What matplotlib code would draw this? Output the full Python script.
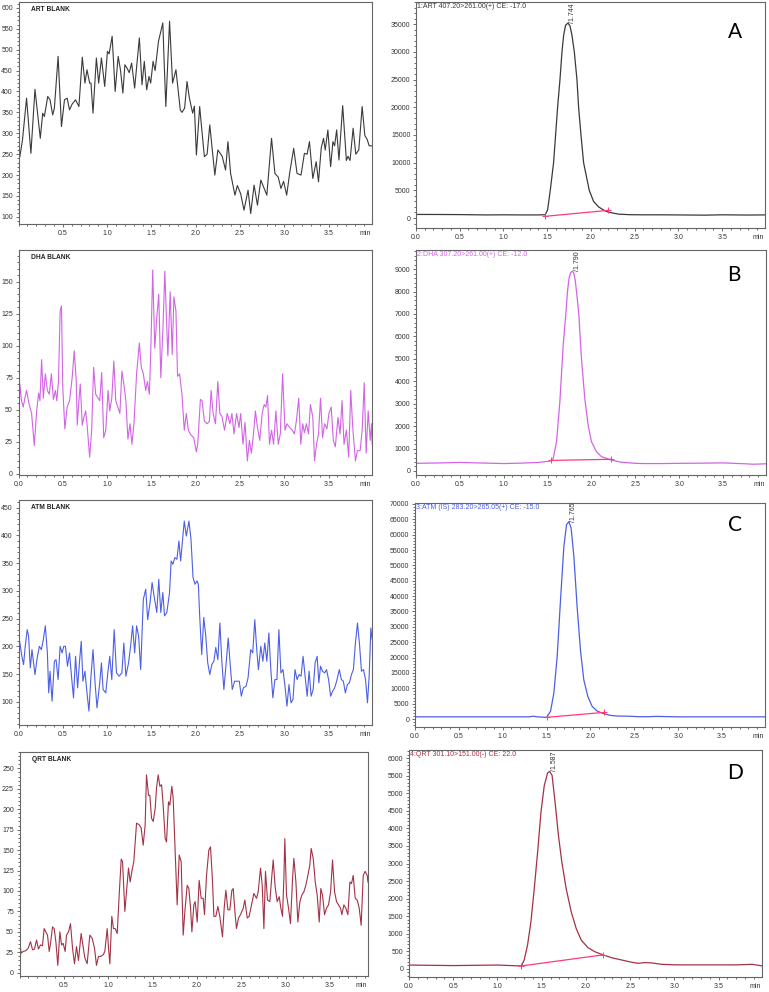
import numpy as np
import matplotlib.pyplot as plt
from matplotlib.ticker import MultipleLocator

plt.rcParams['font.family'] = ['Liberation Sans', 'DejaVu Sans']

# ---- blank traces (left column) ----
art_t = [0.000, 0.015, 0.045, 0.091, 0.140, 0.186, 0.246, 0.273, 0.292, 0.330, 0.356, 0.386, 0.405, 0.447,
         0.485, 0.519, 0.549, 0.576, 0.606, 0.644, 0.682, 0.720, 0.750, 0.773, 0.803, 0.818, 0.841, 0.879,
         0.905, 0.936, 0.973, 1.004, 1.023, 1.057, 1.091, 1.125, 1.152, 1.178, 1.201, 1.227, 1.250, 1.277,
         1.311, 1.364, 1.394, 1.420, 1.447, 1.473, 1.492, 1.519, 1.542, 1.580, 1.629, 1.644, 1.663, 1.705,
         1.739, 1.777, 1.826, 1.845, 1.875, 1.902, 1.928, 1.966, 1.985, 2.008, 2.045, 2.064, 2.098, 2.129,
         2.159, 2.216, 2.250, 2.299, 2.337, 2.364, 2.394, 2.443, 2.470, 2.508, 2.545, 2.591, 2.621, 2.659,
         2.697, 2.735, 2.803, 2.856, 2.894, 2.932, 2.962, 2.992, 3.027, 3.061, 3.106, 3.144, 3.189, 3.227,
         3.258, 3.284, 3.322, 3.360, 3.386, 3.417, 3.443, 3.462, 3.492, 3.523, 3.549, 3.568, 3.591, 3.617,
         3.659, 3.701, 3.720, 3.742, 3.777, 3.807, 3.841, 3.879, 3.909, 3.936, 3.958, 3.992]
art_y = [236, 244, 284, 384, 252, 405, 288, 348, 340, 388, 380, 344, 360, 484,
         316, 380, 384, 356, 370, 380, 364, 482, 420, 452, 420, 420, 348, 480,
         420, 480, 412, 496, 490, 532, 400, 484, 450, 396, 464, 455, 445, 468,
         408, 528, 416, 472, 404, 436, 420, 472, 450, 520, 564, 470, 364, 568,
         420, 452, 356, 350, 360, 424, 385, 348, 365, 248, 364, 320, 244, 250,
         320, 200, 260, 245, 212, 280, 204, 152, 175, 155, 116, 164, 108, 176,
         128, 188, 152, 288, 204, 195, 168, 185, 152, 205, 264, 204, 200, 252,
         250, 280, 192, 232, 184, 265, 288, 260, 308, 220, 280, 270, 308, 236,
         366, 235, 245, 235, 312, 250, 260, 364, 295, 285, 270, 270]

dha_t = [0.000, 0.015, 0.034, 0.053, 0.072, 0.091, 0.121, 0.148, 0.178, 0.205, 0.227, 0.242, 0.261, 0.280,
         0.303, 0.326, 0.348, 0.371, 0.394, 0.417, 0.432, 0.451, 0.470, 0.485, 0.500, 0.523, 0.549, 0.576,
         0.606, 0.629, 0.652, 0.663, 0.682, 0.697, 0.720, 0.735, 0.758, 0.773, 0.803, 0.826, 0.848, 0.871,
         0.898, 0.917, 0.939, 0.962, 0.985, 1.011, 1.030, 1.053, 1.076, 1.098, 1.121, 1.144, 1.167, 1.189,
         1.212, 1.235, 1.258, 1.280, 1.303, 1.333, 1.364, 1.386, 1.409, 1.436, 1.455, 1.477, 1.492, 1.515,
         1.538, 1.561, 1.583, 1.606, 1.629, 1.652, 1.667, 1.686, 1.712, 1.735, 1.754, 1.777, 1.795, 1.818,
         1.845, 1.871, 1.894, 1.917, 1.939, 1.977, 2.008, 2.023, 2.053, 2.072, 2.098, 2.129, 2.155, 2.174,
         2.197, 2.223, 2.250, 2.273, 2.295, 2.326, 2.356, 2.386, 2.409, 2.432, 2.462, 2.489, 2.508, 2.534,
         2.557, 2.583, 2.606, 2.629, 2.652, 2.674, 2.697, 2.723, 2.750, 2.773, 2.792, 2.811, 2.833, 2.856,
         2.879, 2.905, 2.932, 2.955, 2.981, 3.008, 3.030, 3.061, 3.091, 3.114, 3.136, 3.163, 3.186, 3.208,
         3.227, 3.250, 3.273, 3.295, 3.322, 3.341, 3.364, 3.386, 3.409, 3.432, 3.455, 3.481, 3.504, 3.530,
         3.553, 3.576, 3.606, 3.629, 3.652, 3.674, 3.701, 3.727, 3.750, 3.773, 3.803, 3.826, 3.856, 3.879,
         3.902, 3.924, 3.947, 3.970, 3.985, 3.992]
dha_y = [32, 70, 57, 52, 59, 65, 54, 47, 22, 49, 63, 57, 89, 59,
         78, 65, 62, 78, 58, 65, 57, 72, 127, 131, 67, 35, 52, 57,
         75, 96, 72, 38, 57, 70, 38, 43, 49, 39, 13, 34, 83, 62,
         59, 57, 79, 28, 34, 65, 49, 59, 88, 57, 52, 47, 80, 70,
         57, 27, 39, 23, 39, 78, 102, 83, 78, 65, 72, 62, 93, 159,
         98, 122, 140, 75, 111, 158, 127, 92, 142, 93, 138, 127, 76, 78,
         62, 34, 47, 34, 31, 28, 17, 23, 58, 57, 41, 39, 41, 65,
         47, 39, 72, 47, 45, 34, 47, 39, 47, 31, 47, 36, 47, 23,
         40, 10, 26, 16, 31, 49, 36, 26, 47, 54, 52, 61, 23, 34,
         23, 49, 23, 31, 78, 34, 39, 36, 34, 31, 41, 59, 23, 39,
         32, 39, 31, 54, 44, 10, 23, 31, 59, 28, 39, 35, 47, 52,
         26, 21, 44, 31, 57, 23, 34, 13, 65, 36, 10, 18, 18, 34,
         71, 16, 49, 26, 39, 23]

atm_t = [0.000, 0.015, 0.038, 0.057, 0.076, 0.098, 0.114, 0.133, 0.152, 0.170, 0.186, 0.208, 0.235, 0.258,
         0.280, 0.303, 0.326, 0.341, 0.356, 0.379, 0.405, 0.424, 0.447, 0.470, 0.492, 0.511, 0.530, 0.553,
         0.576, 0.598, 0.621, 0.644, 0.667, 0.689, 0.708, 0.727, 0.750, 0.773, 0.795, 0.818, 0.841, 0.864,
         0.886, 0.917, 0.936, 0.955, 0.985, 1.008, 1.030, 1.053, 1.080, 1.106, 1.136, 1.167, 1.189, 1.212,
         1.242, 1.265, 1.288, 1.311, 1.333, 1.356, 1.379, 1.394, 1.409, 1.436, 1.458, 1.485, 1.508, 1.530,
         1.561, 1.583, 1.606, 1.629, 1.648, 1.674, 1.705, 1.723, 1.742, 1.765, 1.788, 1.811, 1.830, 1.856,
         1.871, 1.894, 1.924, 1.947, 1.970, 1.992, 2.015, 2.030, 2.045, 2.068, 2.091, 2.114, 2.136, 2.159,
         2.182, 2.205, 2.227, 2.250, 2.273, 2.295, 2.318, 2.341, 2.367, 2.394, 2.413, 2.439, 2.470, 2.492,
         2.515, 2.538, 2.568, 2.591, 2.621, 2.644, 2.667, 2.689, 2.708, 2.735, 2.758, 2.780, 2.803, 2.826,
         2.848, 2.871, 2.894, 2.917, 2.939, 2.962, 2.985, 3.008, 3.030, 3.053, 3.076, 3.098, 3.121, 3.144,
         3.167, 3.189, 3.212, 3.235, 3.258, 3.280, 3.303, 3.326, 3.348, 3.371, 3.390, 3.409, 3.432, 3.455,
         3.477, 3.500, 3.523, 3.545, 3.568, 3.591, 3.621, 3.644, 3.667, 3.689, 3.712, 3.735, 3.758, 3.780,
         3.803, 3.826, 3.848, 3.871, 3.894, 3.917, 3.939, 3.958, 3.977, 3.992]
atm_y = [222, 206, 182, 167, 200, 230, 218, 161, 194, 170, 149, 176, 200, 194,
         212, 237, 188, 116, 155, 101, 173, 176, 140, 200, 188, 200, 200, 164,
         188, 146, 107, 182, 125, 173, 209, 137, 155, 116, 83, 146, 194, 134,
         89, 134, 170, 122, 116, 152, 182, 140, 230, 152, 146, 152, 206, 146,
         170, 200, 237, 188, 237, 218, 158, 224, 285, 303, 248, 279, 315, 291,
         261, 321, 261, 297, 255, 261, 297, 354, 348, 360, 357, 390, 354, 399,
         426, 399, 426, 393, 324, 312, 318, 312, 255, 185, 252, 218, 170, 149,
         167, 173, 198, 176, 242, 173, 122, 164, 215, 158, 122, 137, 137, 137,
         110, 125, 128, 143, 194, 188, 248, 194, 158, 200, 173, 206, 173, 224,
         158, 107, 140, 140, 230, 152, 158, 128, 92, 131, 98, 104, 158, 140,
         149, 146, 182, 146, 110, 155, 110, 122, 170, 182, 134, 164, 155, 152,
         158, 140, 110, 119, 125, 137, 158, 140, 137, 116, 131, 134, 149, 158,
         206, 242, 206, 155, 158, 140, 98, 146, 233, 212]

qrt_t = [0.004, 0.019, 0.041, 0.071, 0.098, 0.124, 0.147, 0.169, 0.192, 0.214, 0.237, 0.259, 0.278, 0.297,
         0.316, 0.335, 0.350, 0.372, 0.391, 0.410, 0.432, 0.455, 0.474, 0.492, 0.515, 0.530, 0.553, 0.575,
         0.598, 0.620, 0.643, 0.665, 0.695, 0.718, 0.737, 0.763, 0.793, 0.820, 0.846, 0.868, 0.891, 0.917,
         0.944, 0.962, 0.989, 1.004, 1.019, 1.041, 1.060, 1.079, 1.102, 1.124, 1.147, 1.162, 1.188, 1.207,
         1.229, 1.248, 1.267, 1.289, 1.320, 1.350, 1.372, 1.395, 1.417, 1.432, 1.455, 1.470, 1.489, 1.508,
         1.530, 1.545, 1.564, 1.583, 1.602, 1.620, 1.643, 1.658, 1.680, 1.695, 1.718, 1.733, 1.756, 1.778,
         1.801, 1.823, 1.846, 1.865, 1.891, 1.910, 1.929, 1.944, 1.966, 1.981, 2.004, 2.026, 2.049, 2.071,
         2.086, 2.109, 2.135, 2.154, 2.177, 2.192, 2.214, 2.237, 2.259, 2.289, 2.308, 2.327, 2.350, 2.372,
         2.395, 2.410, 2.432, 2.447, 2.470, 2.492, 2.523, 2.541, 2.568, 2.590, 2.617, 2.643, 2.673, 2.692,
         2.718, 2.737, 2.756, 2.774, 2.797, 2.823, 2.846, 2.861, 2.883, 2.906, 2.929, 2.947, 2.966, 2.981,
         2.992, 3.011, 3.034, 3.056, 3.079, 3.094, 3.117, 3.139, 3.162, 3.184, 3.207, 3.229, 3.252, 3.274,
         3.289, 3.312, 3.335, 3.357, 3.380, 3.398, 3.417, 3.440, 3.462, 3.485, 3.508, 3.530, 3.553, 3.575,
         3.598, 3.620, 3.635, 3.658, 3.680, 3.703, 3.726, 3.744, 3.763, 3.786, 3.808, 3.831, 3.853, 3.876,
         3.898, 3.921, 3.929]
qrt_y = [36, 24, 26, 27, 30, 38, 28, 29, 40, 29, 34, 33, 54, 50,
         46, 26, 36, 56, 54, 38, 9, 50, 34, 36, 26, 46, 50, 60,
         30, 11, 32, 15, 48, 32, 18, 11, 46, 42, 30, 9, 20, 20,
         22, 26, 54, 30, 11, 69, 54, 54, 48, 95, 139, 136, 75, 99,
         128, 111, 124, 136, 183, 181, 177, 156, 181, 242, 217, 217, 189, 185,
         201, 226, 242, 228, 230, 205, 164, 160, 209, 205, 228, 213, 148, 83,
         144, 136, 46, 75, 107, 103, 79, 50, 83, 87, 62, 113, 91, 91,
         71, 119, 150, 154, 111, 69, 69, 81, 69, 44, 79, 101, 77, 77,
         101, 103, 71, 54, 67, 71, 79, 89, 67, 69, 83, 97, 91, 99,
         128, 107, 54, 124, 89, 87, 119, 138, 105, 87, 93, 79, 69, 115,
         164, 95, 79, 60, 115, 140, 111, 62, 87, 95, 99, 107, 119, 132,
         152, 140, 111, 95, 62, 103, 95, 71, 79, 83, 99, 138, 99, 87,
         83, 79, 71, 83, 79, 71, 111, 109, 119, 91, 89, 79, 58, 119,
         124, 119, 111]

# ---- sample chromatograms (right column) ----
a_t = [0.0, 0.25, 0.5, 0.8, 1.0, 1.2, 1.4, 1.478, 1.505, 1.535, 1.573, 1.596, 1.619, 1.646, 1.669, 1.688,
       1.710, 1.737, 1.760, 1.783, 1.810, 1.840, 1.859, 1.886, 1.916, 1.981, 2.030, 2.088, 2.150, 2.194,
       2.250, 2.316, 2.45, 2.6, 2.8, 3.0, 3.3, 3.5, 3.8, 3.99]
a_y = [650, 640, 620, 560, 580, 560, 560, 600, 1500, 5000, 10000, 15000, 20000, 25000, 30000, 33000,
       34800, 35200, 34700, 33000, 30000, 25000, 20000, 15000, 10000, 5000, 3000, 2000, 1400, 1100,
       900, 700, 600, 580, 580, 560, 520, 580, 540, 560]

b_t = [0.0, 0.3, 0.5, 0.8, 1.0, 1.2, 1.4, 1.534, 1.564, 1.602, 1.640, 1.678, 1.708, 1.727, 1.745, 1.765,
       1.784, 1.800, 1.815, 1.830, 1.856, 1.886, 1.924, 1.962, 2.000, 2.057, 2.114, 2.220, 2.341, 2.5,
       2.6, 2.8, 3.0, 3.3, 3.5, 3.75, 3.85, 3.99]
b_y = [340, 360, 380, 350, 330, 350, 380, 445, 560, 1300, 3090, 5610, 7000, 8000, 8600, 8850,
       8910, 8800, 8500, 8000, 7000, 5020, 3240, 2050, 1310, 860, 640, 490, 390, 340,
       330, 330, 340, 350, 360, 320, 300, 320]

c_t = [0.0, 0.5, 1.0, 1.3, 1.35, 1.4, 1.5, 1.545, 1.583, 1.621, 1.659, 1.697, 1.727, 1.754, 1.780, 1.811,
       1.848, 1.886, 1.924, 1.970, 2.019, 2.076, 2.152, 2.227, 2.303, 2.45, 2.55, 2.65, 2.75, 2.85, 3.0,
       3.5, 3.99]
c_y = [700, 700, 700, 700, 900, 700, 540, 2500, 8450, 20400, 38800, 56100, 63200, 64260, 62100, 52900,
       36600, 22500, 12800, 7370, 4120, 2600, 1730, 1190, 975, 900, 750, 750, 850, 800, 700,
       700, 700]

d_t = [0.0, 0.5, 1.0, 1.2, 1.271, 1.302, 1.340, 1.378, 1.416, 1.454, 1.492, 1.529, 1.567, 1.590, 1.617,
       1.651, 1.689, 1.727, 1.776, 1.833, 1.890, 1.947, 2.023, 2.099, 2.194, 2.288, 2.402, 2.516, 2.592,
       2.668, 2.744, 2.858, 3.010, 3.313, 3.693, 3.882, 3.996]
d_y = [110, 95, 110, 90, 85, 255, 680, 1340, 2290, 3330, 4470, 5220, 5580, 5620, 5510,
       4750, 3800, 3050, 2290, 1630, 1150, 820, 605, 490, 400, 320, 255, 190, 160,
       180, 170, 130, 115, 115, 115, 130, 85]

# integration baselines (start, end)
a_base_t, a_base_y = [1.470, 2.194], [300, 1380]
b_base_t, b_base_y = [1.534, 2.220], [470, 520]
c_base_t, c_base_y = [1.500, 2.159], [540, 2170]
d_base_t, d_base_y = [1.271, 2.194], [85, 400]

blank_names = ['ART BLANK', 'DHA BLANK', 'ATM BLANK', 'QRT BLANK']
headers = ['1:ART 407.20>261.00(+) CE: -17.0', '2:DHA 307.20>261.00(+) CE: -12.0',
           '3:ATM (IS) 283.20>265.05(+) CE: -15.0', '4:QRT 301.10>151.00(-) CE: 22.0']
peak_labels = ['/1.744', '/1.790', '/1.765', '/1.587']
panel_letters = ['A', 'B', 'C', 'D']
colors = ['#3a3a3a', '#d264e6', '#4d5fe4', '#a33246']
base_color = '#ff3a78'

fig = plt.figure(figsize=(7.69, 9.92), dpi=100)


def box(l, t, r, b):
    return [l / 769, 1 - b / 992, (r - l) / 769, (b - t) / 992]


def style(ax, xmax, ylim, yticks, yminor, first_x):
    ax.set_xlim(0, xmax)
    ax.set_ylim(*ylim)
    xt = [v for v in np.arange(0, 3.6, 0.5) if v >= first_x - 1e-9]
    ax.set_xticks(xt)
    ax.set_xticklabels([f'{v:.1f}' for v in xt])
    ax.xaxis.set_minor_locator(MultipleLocator(0.1))
    ax.set_yticks(yticks)
    ax.yaxis.set_minor_locator(MultipleLocator(yminor))
    ax.tick_params(which='both', direction='out', labelsize=5, width=0.5,
                   colors='#333333', pad=1.5)
    ax.tick_params(which='major', length=2.5)
    ax.tick_params(which='minor', length=1.2)
    for s in ax.spines.values():
        s.set_color('#666666')
        s.set_linewidth(0.8)
    ax.annotate('min', xy=(1, 0), xycoords='axes fraction', xytext=(-1, -4),
                textcoords='offset points', ha='right', va='top', fontsize=5, color='#333333')


left_boxes = [box(18.5, 2, 372, 224), box(18.5, 250, 372, 475),
              box(18.5, 500, 372, 725), box(19.5, 752, 368, 976)]
right_boxes = [box(416, 2, 765, 228), box(416, 250, 766, 475),
               box(415, 503, 765, 727), box(409, 750, 762, 977)]

left_data = [(art_t, art_y), (dha_t, dha_y), (atm_t, atm_y), (qrt_t, qrt_y)]
left_lims = [(83, 614), (-1, 174.6), (58, 464), (-4, 270)]
left_ticks = [range(100, 601, 50), range(0, 151, 25), range(100, 451, 50), range(0, 251, 25)]
left_minor = [10, 5, 10, 5]
left_first = [0.5, 0.0, 0.0, 0.5]
left_xmax = [3.99, 3.99, 3.99, 3.93]

right_data = [(a_t, a_y), (b_t, b_y), (c_t, c_y), (d_t, d_y)]
right_base = [(a_base_t, a_base_y), (b_base_t, b_base_y), (c_base_t, c_base_y), (d_base_t, d_base_y)]
right_lims = [(-1800, 39000), (-180, 9850), (-2600, 70300), (-230, 6230)]
right_ticks = [range(0, 35001, 5000), range(0, 9001, 1000), range(0, 70001, 5000), range(0, 6001, 500)]
right_minor = [1000, 200, 1000, 100]
letter_pos = [(735, 32), (734, 275), (735, 525), (735, 773)]

for i in range(4):
    ax = fig.add_axes(left_boxes[i])
    t, y = left_data[i]
    ax.plot(t, y, color=colors[i], lw=0.8)
    style(ax, left_xmax[i], left_lims[i], list(left_ticks[i]), left_minor[i], left_first[i])
    ax.text(0.035, 0.965, blank_names[i], transform=ax.transAxes, fontsize=4.8,
            fontweight='bold', color='#222222', va='center', ha='left')

    ax = fig.add_axes(right_boxes[i])
    t, y = right_data[i]
    ax.plot(t, y, color=colors[i], lw=0.9)
    bt, by = right_base[i]
    ax.plot(bt, by, color=base_color, lw=0.9)
    ax.plot(bt, by, ls='none', marker='+', ms=4, mew=0.7, color=base_color)
    style(ax, 3.99, right_lims[i], list(right_ticks[i]), right_minor[i], 0.0)
    k = int(np.argmax(y))
    ax.text(t[k] + 0.055, y[k], peak_labels[i], rotation=90, fontsize=5,
            color='#333333', ha='center', va='bottom')
    ax.text(0.004, 0.995, headers[i], transform=ax.transAxes, fontsize=5,
            color=colors[i], ha='left', va='top')
    fig.text(letter_pos[i][0] / 769, 1 - letter_pos[i][1] / 992, panel_letters[i],
             fontsize=15, family='Lato', ha='center', va='center', color='black')

fig.savefig('out.png', dpi=100)
